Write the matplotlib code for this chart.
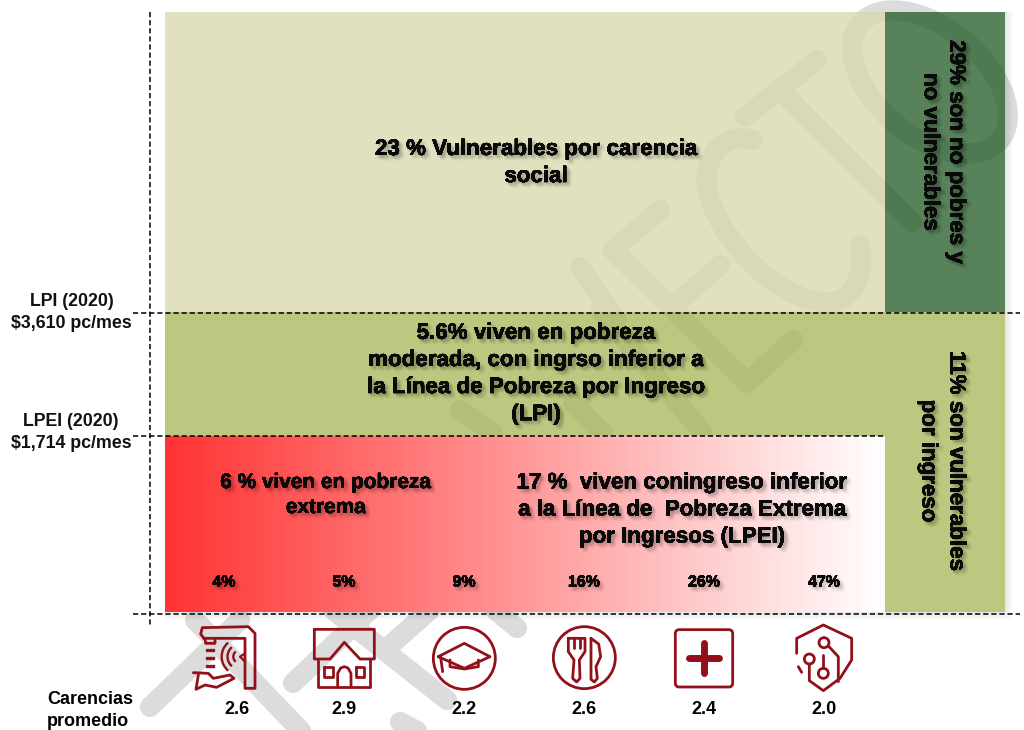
import matplotlib
matplotlib.use('Agg')
import matplotlib.pyplot as plt
import matplotlib.patheffects as pe
from matplotlib.patches import Rectangle, Circle, Ellipse, FancyBboxPatch, Arc, PathPatch
from matplotlib.path import Path
import numpy as np

plt.rcParams['font.family'] = ['Liberation Sans', 'DejaVu Sans']

# --- data ---
carencias_pct = ['4%', '5%', '9%', '16%', '26%', '47%']
carencias_x = [224, 344, 464, 584, 704, 824]
promedio = ['2.6', '2.9', '2.2', '2.6', '2.4', '2.0']
promedio_x = [237, 344, 464, 584, 704, 824]

BLOQUE_1 = '23 % Vulnerables por carencia\nsocial'
BLOQUE_2 = '5.6% viven en pobreza\nmoderada, con ingrso inferior a\nla Línea de Pobreza por Ingreso\n(LPI)'
BLOQUE_3 = '6 % viven en pobreza\nextrema'
BLOQUE_4 = '17 %  viven coningreso inferior\na la Línea de  Pobreza Extrema\npor Ingresos (LPEI)'
BLOQUE_5 = '29% son no pobres y\nno vulnerables'
BLOQUE_6 = '11% son vulnerables\npor ingreso'

ROJO = '#93101a'

fig = plt.figure(figsize=(10.24, 7.3), dpi=100)
ax = fig.add_axes([0, 0, 1, 1])
ax.set_xlim(0, 1024)
ax.set_ylim(730, 0)
ax.axis('off')

# --- marca de agua ---
GRIS = '#dcdcdc'
trazos = [
    [(745, 117), (817, 60)],
    [(785, 95), (912, 222)],
    [(660, 210), (613, 250), (747, 383), (793, 340)],
    [(677, 303), (720, 265)],
    [(580, 267), (617, 320)],
    [(600, 310), (703, 433)],
    [(573, 403), (603, 433)],
    [(460, 410), (493, 433)],
    [(150, 707), (240, 620)],
    [(195, 620), (305, 735)],
    [(293, 683), (370, 610)],
    [(333, 610), (447, 700)],
    [(385, 650), (430, 610)],
    [(400, 722), (425, 735)],
    [(495, 610), (517, 628)],
]
for t in trazos:
    xs, ys = zip(*t)
    ax.plot(xs, ys, color=GRIS, lw=14.5, solid_capstyle='round', solid_joinstyle='round', zorder=1)
curva_c = Path([(753, 140), (720, 130), (695, 165), (712, 205), (730, 250), (780, 300), (825, 302), (855, 305), (865, 270), (860, 245)],
               [Path.MOVETO] + [Path.CURVE4] * 9)
ax.add_patch(PathPatch(curva_c, fill=False, ec=GRIS, lw=14.5, capstyle='round', zorder=1))
ax.add_patch(Ellipse((930, 82), 182, 108, angle=40, fill=False, ec=GRIS, lw=14.5, zorder=1))

# --- sombra de los bloques ---
for i in range(8):
    ax.add_patch(Rectangle((165 - i * 0.2, 612), 840 + i, 1 + i, fc='k', alpha=0.012, zorder=1.5))
    ax.add_patch(Rectangle((1005, 12), 1 + i, 600, fc='k', alpha=0.012, zorder=1.5))

# --- bloques ---
ALFA = 0.75
ax.add_patch(Rectangle((165, 12), 720, 300, fc=(216/255, 216/255, 171/255), alpha=ALFA, zorder=2))
ax.add_patch(Rectangle((165, 312), 720, 124, fc=(166/255, 182/255, 86/255), alpha=ALFA, zorder=2))
ax.add_patch(Rectangle((885, 12), 120, 300, fc=(32/255, 88/255, 35/255), alpha=ALFA, zorder=2))
ax.add_patch(Rectangle((885, 312), 120, 300, fc=(166/255, 182/255, 86/255), alpha=ALFA, zorder=2))

grad = np.linspace(0, 1, 256)
img = np.zeros((1, 256, 3))
img[0, :, 0] = 1.0
img[0, :, 1] = 0.2 + 0.8 * grad
img[0, :, 2] = 0.2 + 0.8 * grad
ax.imshow(img, extent=(165, 885, 612, 436), aspect='auto', zorder=3)
ax.set_xlim(0, 1024)
ax.set_ylim(730, 0)

# --- lineas punteadas ---
guion = dict(color='k', lw=1.1, dashes=(3.4, 1.9), zorder=5)
ax.plot([133, 1020], [313, 313], **guion)
ax.plot([133, 885], [436, 436], **guion)
ax.plot([133, 1020], [614, 614], **guion)
ax.plot([150, 150], [12, 627], **guion)

# --- textos ---
desp = [(1, -1), (2, -2), (3, -3), (2, -1), (1, -2), (3, -2), (2, -3), (4, -2), (2, -4), (0, -2), (2, 0), (4, -4), (3, -1), (1, -3)]
sombra = [pe.withSimplePatchShadow(offset=o, alpha=0.028, shadow_rgbFace='k') for o in desp] + [pe.Normal()]


def bloque(x, y, s, size=16.1, rot=0, ls=1.38):
    ax.text(x, y, s, ha='center', va='center', ma='center', fontsize=size, fontweight='bold',
            rotation=rot, linespacing=ls, color='#0a0a0a', path_effects=sombra, zorder=6)


bloque(536, 163, BLOQUE_1)
bloque(536, 374, BLOQUE_2)
bloque(326, 495, BLOQUE_3, size=15, ls=1.4)
bloque(682, 510, BLOQUE_4)
bloque(943, 152, BLOQUE_5, rot=-90, ls=1.28)
bloque(942, 461, BLOQUE_6, rot=-90, ls=1.45)

for x, s in zip(carencias_x, carencias_pct):
    bloque(x, 582, s, size=11.5)
for x, s in zip(promedio_x, promedio):
    ax.text(x, 709, s, ha='center', va='center', fontsize=13, fontweight='bold', color='k', zorder=6)

for x, y, s in [(72, 301, 'LPI (2020)'), (71, 323, '$3,610 pc/mes'),
                (71, 421, 'LPEI (2020)'), (71, 444, '$1,714 pc/mes')]:
    ax.text(x, y, s, ha='center', va='center', fontsize=12.8, fontweight='bold', color='#111111', zorder=6)
ax.text(47, 699, 'Carencias', ha='left', va='center', fontsize=13, fontweight='bold', color='k', zorder=6)
ax.text(47, 721, 'promedio', ha='left', va='center', fontsize=13, fontweight='bold', color='k', zorder=6)


# --- iconos (coordenadas en pixeles de 3x) ---
def linea(pts, ox, oy, lw=2.0):
    xs = [ox + p[0] / 3 for p in pts]
    ys = [oy + p[1] / 3 for p in pts]
    ax.plot(xs, ys, color=ROJO, lw=lw, solid_capstyle='round', solid_joinstyle='round', zorder=7)


def circulo(c, r, ox, oy, lw=2.0):
    ax.add_patch(Circle((ox + c[0] / 3, oy + c[1] / 3), r / 3, fill=False, ec=ROJO, lw=lw, zorder=7))


def arco(c, d, a1, a2, ox, oy, lw=1.7):
    ax.add_patch(Arc((ox + c[0] / 3, oy + c[1] / 3), d / 3, d / 3, theta1=a1, theta2=a2, ec=ROJO, lw=lw, zorder=7))


ox, oy = 150, 610
# llave
linea([(162, 85), (152, 72), (157, 53), (295, 50), (315, 70), (315, 235), (285, 235), (285, 85), (162, 85)], ox, oy)
linea([(165, 85), (167, 100), (195, 100), (195, 85)], ox, oy)
for a in [120, 143, 167]:
    for b in [170, 180, 190]:
        ax.plot(ox + b / 3, oy + a / 3, 's', color=ROJO, ms=1.6, zorder=7)
arco((270, 140), 40, 130, 230, ox, oy)
arco((270, 140), 75, 130, 230, ox, oy)
arco((270, 140), 110, 130, 230, ox, oy)
linea([(285, 130), (270, 140), (285, 155)], ox, oy, lw=1.6)
linea([(130, 188), (175, 190), (190, 205), (240, 195), (252, 205), (200, 232), (165, 225), (138, 238), (145, 195)], ox, oy)
# casa
linea([(493, 58), (673, 58), (673, 147), (630, 147), (583, 97), (540, 147), (493, 147), (493, 58)], ox, oy)
linea([(505, 147), (505, 232), (660, 232), (660, 147)], ox, oy)
linea([(522, 170), (548, 170), (548, 200), (522, 200), (522, 170)], ox, oy)
linea([(617, 170), (643, 170), (643, 200), (617, 200), (617, 170)], ox, oy)
linea([(563, 232), (563, 190), (572, 174), (583, 170), (594, 174), (603, 190), (603, 232)], ox, oy)
# birrete
circulo((943, 145), 93, ox, oy)
linea([(865, 140), (943, 100), (1020, 140), (943, 175), (865, 140)], ox, oy)
linea([(900, 150), (900, 170), (943, 177), (985, 170), (985, 150)], ox, oy)
linea([(872, 143), (878, 185)], ox, oy)

ox, oy = 530, 610
# cubiertos
circulo((163, 143), 93, ox, oy)
linea([(115, 85), (115, 125), (132, 150), (128, 205), (140, 216), (150, 205), (148, 150), (165, 125), (165, 85), (115, 85)], ox, oy)
linea([(131, 85), (131, 115)], ox, oy)
linea([(149, 85), (149, 115)], ox, oy)
linea([(183, 85), (183, 208), (193, 216), (202, 205), (198, 170), (212, 140), (206, 102), (183, 85)], ox, oy)
# cruz
ax.add_patch(FancyBboxPatch((ox + 442 / 3, oy + 65 / 3), 160 / 3, 160 / 3, boxstyle='round,pad=2,rounding_size=4',
                            fill=False, ec=ROJO, lw=2.0, zorder=7))
linea([(478, 143), (568, 143)], ox, oy, lw=5)
linea([(522, 100), (522, 188)], ox, oy, lw=5)
# escudo
linea([(800, 130), (800, 85), (880, 45), (965, 85), (965, 150), (930, 205), (880, 242), (838, 212), (838, 162)], ox, oy)
linea([(805, 170), (815, 187)], ox, oy)
circulo((882, 98), 15, ox, oy)
circulo((838, 147), 15, ox, oy)
circulo((880, 190), 15, ox, oy)
linea([(895, 108), (925, 140), (925, 215)], ox, oy)
linea([(880, 135), (880, 175)], ox, oy)

fig.savefig('out.png', dpi=100)
